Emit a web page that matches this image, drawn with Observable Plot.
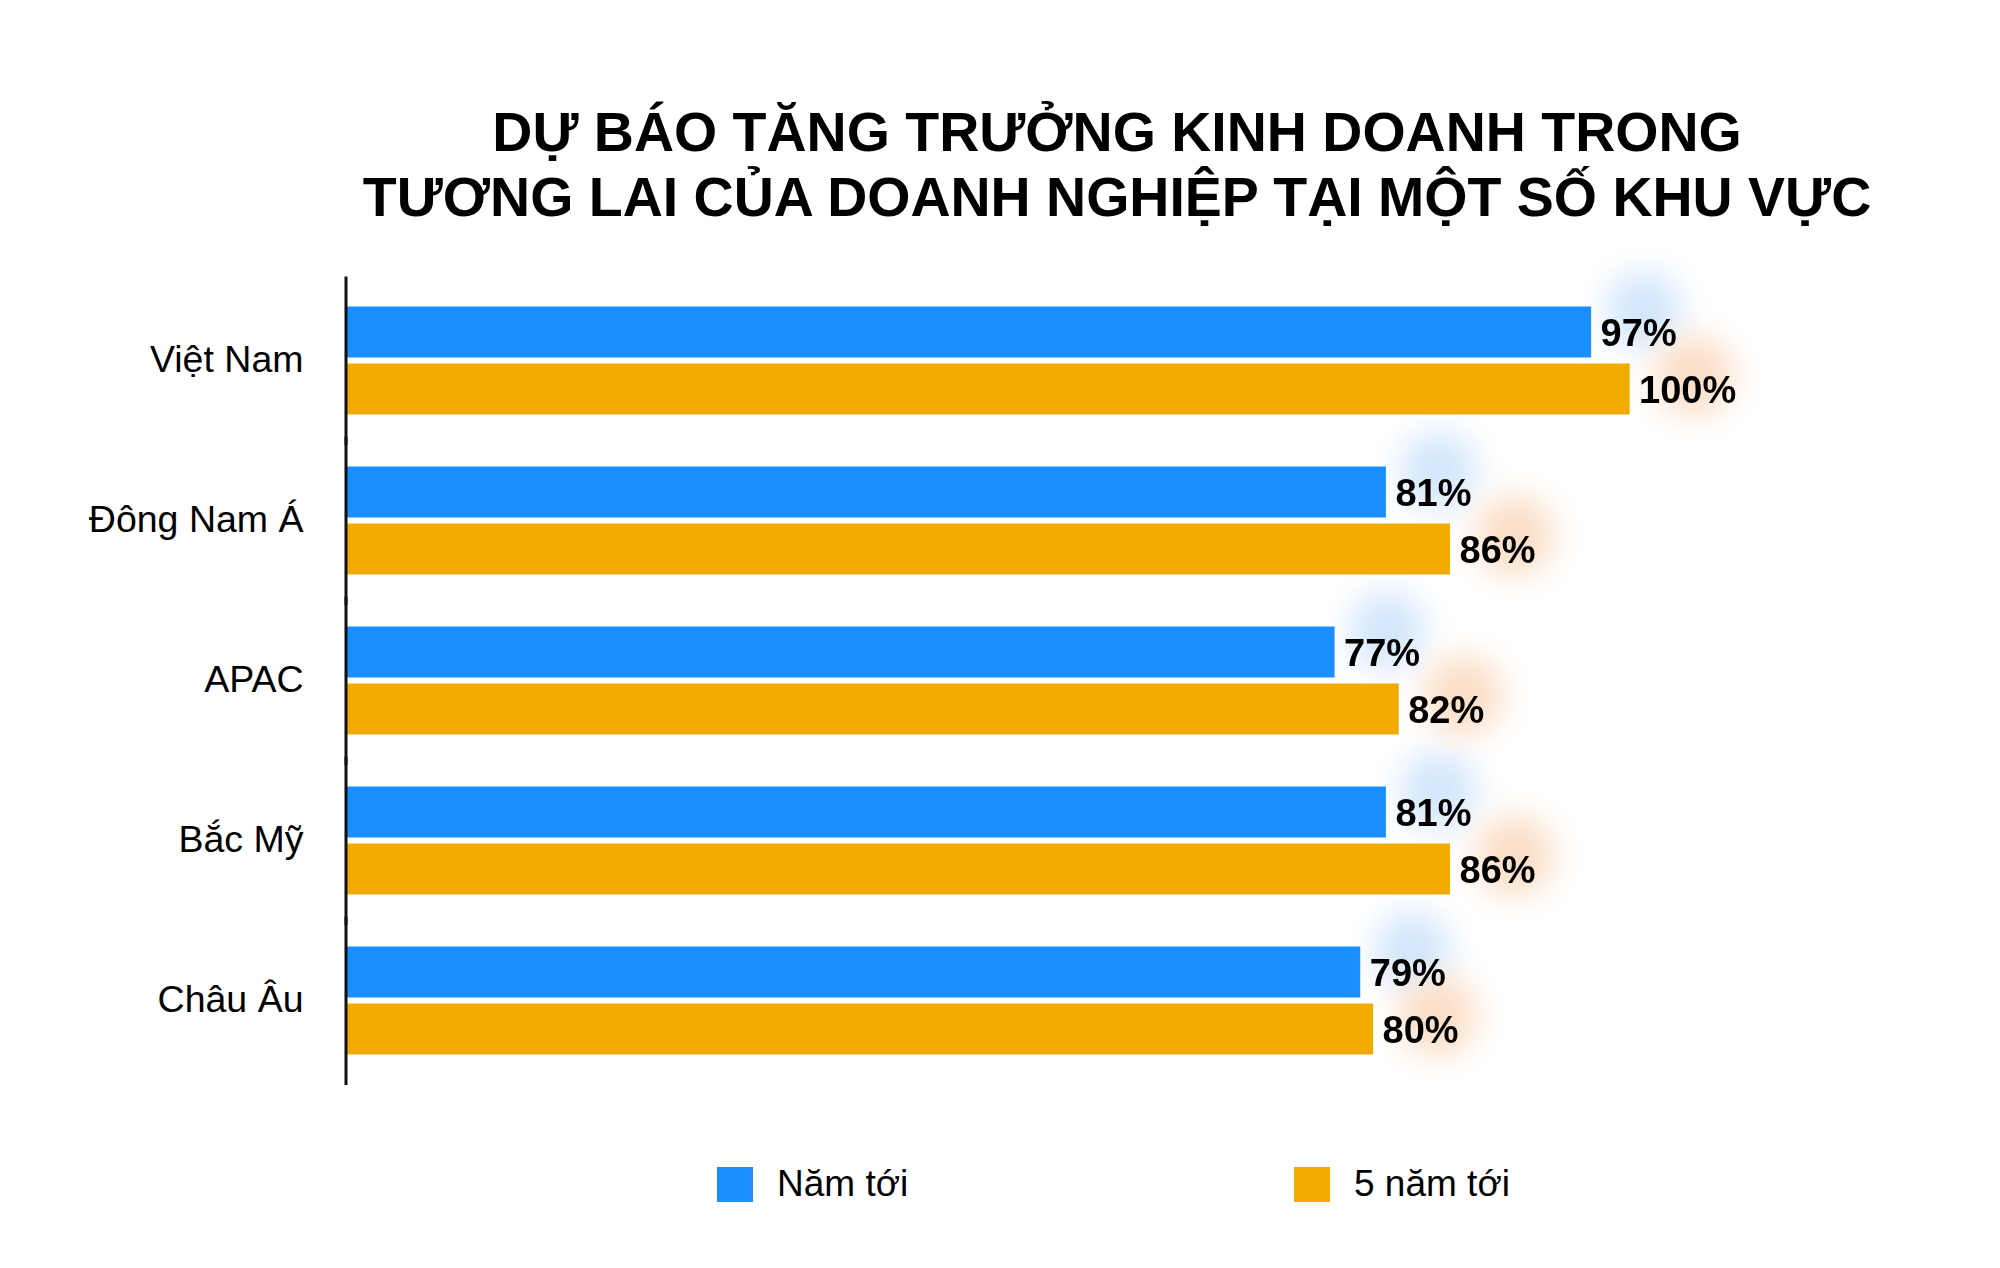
<!DOCTYPE html>
<html>
<head>
<meta charset="utf-8">
<script src="https://cdn.jsdelivr.net/npm/d3@7"></script>
<script src="https://cdn.jsdelivr.net/npm/@observablehq/plot@0.6"></script>
<style>
  html, body { margin: 0; padding: 0; background: #fff; }
  #wrap { position: relative; width: 2000px; height: 1268px; background: #fff; overflow: hidden;
          font-family: "Liberation Sans", Arial, Helvetica, sans-serif; color: #000; }
  #chart { position: absolute; left: 0; top: 0; }
  #title { position: absolute; top: 100px; left: 1117px; transform: translateX(-50%);
           white-space: nowrap; text-align: center; font-weight: bold; font-size: 55.5px; line-height: 65px; }
  .sw { position: absolute; top: 1167px; width: 36px; height: 35px; }
  .lt { position: absolute; top: 1164px; font-size: 37px; line-height: 40px; white-space: nowrap; }
</style>
</head>
<body>
<div id="wrap">
  <div id="chart"></div>
  <div id="title"></div>
  <div id="legend"></div>
</div>
<script>
const titleLines = ["DỰ BÁO TĂNG TRƯỞNG KINH DOANH TRONG", "TƯƠNG LAI CỦA DOANH NGHIỆP TẠI MỘT SỐ KHU VỰC"];
const regions = ["Việt Nam", "Đông Nam Á", "APAC", "Bắc Mỹ", "Châu Âu"];
const series = ["Năm tới", "5 năm tới"];
const nextYear = [97, 81, 77, 81, 79];
const fiveYears = [100, 86, 82, 86, 80];
const colors = ["#1B8FFF", "#F2AC00"];
const glowColors = ["#d2e6fb", "#fbdec6"];

const data = regions.flatMap((r, i) => [
  {region: r, series: series[0], value: nextYear[i]},
  {region: r, series: series[1], value: fiveYears[i]}
]);

const chart = Plot.plot({
  width: 2000,
  height: 1268,
  marginTop: 278.5,
  marginBottom: 185,
  marginLeft: 347,
  marginRight: 370.4,
  style: {fontFamily: "'Liberation Sans', Arial, Helvetica, sans-serif", background: "transparent", color: "#000"},
  x: {domain: [0, 100], axis: null},
  y: {domain: series, axis: null, paddingInner: 0.1, paddingOuter: 0.45},
  fy: {domain: regions, padding: 0},
  color: {domain: series, range: colors},
  marks: [
    Plot.dot(data.filter(d => d.series === series[0]), {x: "value", y: "series", fy: "region", dx: 52, dy: -22, r: 38, fill: glowColors[0], stroke: "none"}),
    Plot.dot(data.filter(d => d.series === series[1]), {x: "value", y: "series", fy: "region", dx: 64, dy: -14, r: 40, fill: glowColors[1], stroke: "none"}),
    Plot.barX(data, {x: "value", y: "series", fy: "region", fill: "series"}),
    Plot.text(data, {x: "value", y: "series", fy: "region", text: d => d.value + "%", textAnchor: "start", dx: 9, dy: 1, fontWeight: "bold", fontSize: 38, fill: "#000"}),
    Plot.ruleX([0], {stroke: "#111", strokeWidth: 3, dx: -1.5, insetTop: -4.5, insetBottom: -4}),
    Plot.axisFy({anchor: "left", tickSize: 0, tickPadding: 44, fontSize: 37.5, dy: -2, label: null, fill: "#000"})
  ]
});

// soft glow behind value labels
const svg = d3.select(chart);
const filter = svg.insert("defs", ":first-child").append("filter")
  .attr("id", "glowblur").attr("x", "-100%").attr("y", "-100%").attr("width", "300%").attr("height", "300%");
filter.append("feGaussianBlur").attr("stdDeviation", 16);
svg.selectAll('g[aria-label="dot"]').attr("filter", "url(#glowblur)");

document.getElementById("chart").appendChild(chart);

// title
const title = document.getElementById("title");
titleLines.forEach(t => { const d = document.createElement("div"); d.textContent = t; title.appendChild(d); });

// legend
const legend = document.getElementById("legend");
const swX = [717, 1294], txX = [777, 1354];
series.forEach((s, i) => {
  const sw = document.createElement("div");
  sw.className = "sw"; sw.style.left = swX[i] + "px"; sw.style.background = colors[i];
  const tx = document.createElement("div");
  tx.className = "lt"; tx.style.left = txX[i] + "px"; tx.textContent = s;
  legend.appendChild(sw); legend.appendChild(tx);
});
</script>
</body>
</html>
